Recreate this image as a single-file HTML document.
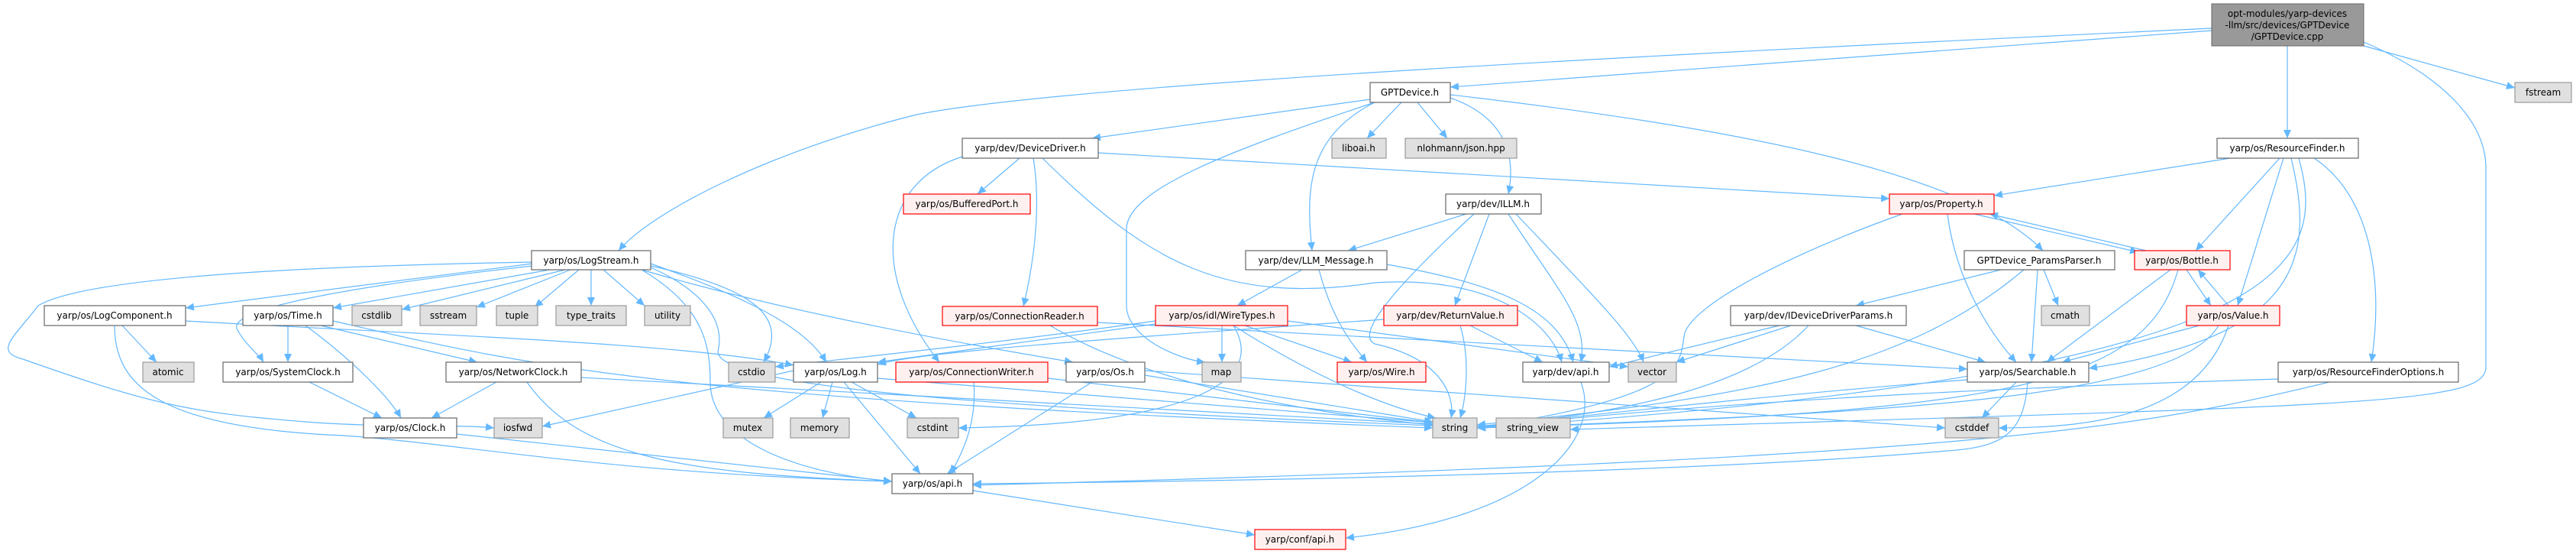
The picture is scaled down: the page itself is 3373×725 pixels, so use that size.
<!DOCTYPE html>
<html><head><meta charset="utf-8"><style>
html,body{margin:0;padding:0;background:#fff;}
svg{display:block;}
text{font-family:"DejaVu Sans","Liberation Sans",sans-serif;font-size:12px;fill:#000;}
.e{fill:none;stroke:#63b8ff;stroke-width:1.2;marker-end:url(#a);}
.w{fill:#fff;stroke:#666;stroke-width:1.2;}
.g{fill:#e0e0e0;stroke:#999;stroke-width:1.2;}
.r{fill:#fff0f0;stroke:#f00;stroke-width:1.2;}
</style></head><body>
<svg width="3373" height="725" viewBox="0 0 3373 725" xmlns="http://www.w3.org/2000/svg">
<defs><marker id="a" markerUnits="userSpaceOnUse" markerWidth="12" markerHeight="10" refX="11" refY="5" orient="auto"><path d="M0,0 L11,5 L0,10 z" fill="#63b8ff"/></marker></defs>
<g>
<path class="e" d="M2896,40 L1899,114"/>
<path class="e" d="M2896,37 C2200,70 1400,110 1200,150 C1000,200 850,280 810,328"/>
<path class="e" d="M2995,60 L2995,181"/>
<path class="e" d="M3095,60 L3293,115"/>
<path class="e" d="M3095,55 C3200,100 3255,160 3255,220 L3255,480 C3255,530 3100,530 2056,562"/>
<path class="e" d="M1794,130 L1430,181"/>
<path class="e" d="M1835,134 L1790,181"/>
<path class="e" d="M1856,134 L1895,181"/>
<path class="e" d="M1899,128 C1990,160 1980,230 1975,254"/>
<path class="e" d="M1800,134 C1710,180 1710,250 1718,328"/>
<path class="e" d="M1800,134 C1600,200 1475,250 1475,300 L1475,400 C1475,440 1540,470 1578,474"/>
<path class="e" d="M1899,124 C2300,170 2580,230 2675,328"/>
<path class="e" d="M1335,207 L1280,254"/>
<path class="e" d="M1353,207 C1365,280 1350,360 1340,401"/>
<path class="e" d="M1260,205 C1150,240 1140,360 1230,474"/>
<path class="e" d="M1438,200 L2474,260"/>
<path class="e" d="M1365,207 C1500,340 1600,400 1800,370 C1950,360 2030,420 2045,474"/>
<path class="e" d="M1920,280 L1765,328"/>
<path class="e" d="M1950,280 L1905,400"/>
<path class="e" d="M1975,280 C2040,380 2080,420 2070,474"/>
<path class="e" d="M1985,280 C2080,380 2140,440 2152,474"/>
<path class="e" d="M1930,280 C1800,400 1780,440 1800,450 C1890,470 1905,520 1900,547"/>
<path class="e" d="M1705,353 L1620,400"/>
<path class="e" d="M1727,353 C1745,420 1770,450 1790,474"/>
<path class="e" d="M1816,346 C1950,370 2040,400 2060,474"/>
<path class="e" d="M1437,422 L2576,483"/>
<path class="e" d="M1375,426 C1500,500 1700,540 1876,556"/>
<path class="e" d="M1600,426 L1600,474"/>
<path class="e" d="M1630,426 L1770,474"/>
<path class="e" d="M1615,426 C1700,480 1800,530 1880,547"/>
<path class="e" d="M1615,426 C1660,500 1560,555 1255,560"/>
<path class="e" d="M1513,420 C1300,450 1100,470 1015,480"/>
<path class="e" d="M1513,424 L1149,474"/>
<path class="e" d="M1686,420 L2132,480"/>
<path class="e" d="M1925,426 L2020,474"/>
<path class="e" d="M1912,426 C1925,470 1920,520 1912,547"/>
<path class="e" d="M1812,418 C1500,440 1200,460 1149,477"/>
<path class="e" d="M2550,280 C2560,360 2600,430 2640,474"/>
<path class="e" d="M2491,280 C2350,330 2210,400 2205,440 C2200,480 2200,520 1934,560"/>
<path class="e" d="M2585,280 L2800,330"/>
<path class="e" d="M2810,328 L2605,280"/>
<path class="e" d="M2920,207 L2611,256"/>
<path class="e" d="M2985,207 L2875,328"/>
<path class="e" d="M2990,207 L2930,400"/>
<path class="e" d="M3000,207 C3030,330 3020,440 2735,482"/>
<path class="e" d="M3010,207 C3050,350 3000,490 1934,560"/>
<path class="e" d="M3030,207 C3110,260 3120,380 3105,474"/>
<path class="e" d="M2620,353 L2430,400"/>
<path class="e" d="M2676,353 L2695,400"/>
<path class="e" d="M2668,353 L2660,474"/>
<path class="e" d="M2650,353 C2500,480 2300,520 1934,556"/>
<path class="e" d="M2842,353 L2680,474"/>
<path class="e" d="M2852,353 C2810,500 2650,540 1934,560"/>
<path class="e" d="M2863,353 L2895,400"/>
<path class="e" d="M2918,400 L2878,353"/>
<path class="e" d="M2880,426 L2700,474"/>
<path class="e" d="M2905,426 C2850,520 2500,540 1934,560"/>
<path class="e" d="M2918,426 C2880,540 2750,560 2617,560"/>
<path class="e" d="M2330,426 L2107,480"/>
<path class="e" d="M2345,426 L2195,474"/>
<path class="e" d="M2430,426 L2600,474"/>
<path class="e" d="M2368,426 C2300,500 2150,540 1934,558"/>
<path class="e" d="M2576,497 C2400,510 2100,540 1934,560"/>
<path class="e" d="M2640,500 L2595,547"/>
<path class="e" d="M2655,500 C2650,570 2620,585 2550,590 C2200,620 1600,630 1274,633"/>
<path class="e" d="M2983,496 C2700,505 2300,520 1934,560"/>
<path class="e" d="M3050,500 C2800,560 2600,600 1274,635"/>
<path class="e" d="M2070,500 C2100,580 2000,680 1762,704"/>
<path class="e" d="M1274,642 L1643,700"/>
<path class="e" d="M697,345 L243,403"/>
<path class="e" d="M720,353 L436,403"/>
<path class="e" d="M740,353 L526,405"/>
<path class="e" d="M747,353 L624,402"/>
<path class="e" d="M758,353 L700,402"/>
<path class="e" d="M774,353 L774,400"/>
<path class="e" d="M790,353 L844,400"/>
<path class="e" d="M697,348 C500,370 300,400 310,430 C320,450 340,465 345,474"/>
<path class="e" d="M697,343 C300,350 100,370 50,400 C20,440 -10,460 30,470 C200,530 250,540 400,552 C500,560 600,555 647,560"/>
<path class="e" d="M852,348 C1000,380 1030,420 1000,474"/>
<path class="e" d="M852,345 C950,380 1050,420 1082,474"/>
<path class="e" d="M840,353 C1000,400 1200,440 1405,474"/>
<path class="e" d="M852,350 C920,380 950,420 940,460 C940,500 1200,530 1876,557"/>
<path class="e" d="M840,353 C920,400 930,450 930,500 C930,580 1050,620 1168,630"/>
<path class="e" d="M160,426 L205,474"/>
<path class="e" d="M243,420 C600,440 900,450 1039,478"/>
<path class="e" d="M150,426 C150,500 200,560 450,570 C600,580 800,620 1168,630"/>
<path class="e" d="M377,426 L377,474"/>
<path class="e" d="M420,426 L625,474"/>
<path class="e" d="M400,426 C460,470 510,520 525,547"/>
<path class="e" d="M436,420 C700,480 850,520 1876,560"/>
<path class="e" d="M405,500 L500,547"/>
<path class="e" d="M650,500 L565,547"/>
<path class="e" d="M761,494 L1876,555"/>
<path class="e" d="M690,500 C760,600 900,620 1168,630"/>
<path class="e" d="M598,568 L1168,630"/>
<path class="e" d="M1039,485 L710,558"/>
<path class="e" d="M1075,500 L1000,547"/>
<path class="e" d="M1090,500 L1077,547"/>
<path class="e" d="M1115,500 L1200,547"/>
<path class="e" d="M1105,500 L1205,620"/>
<path class="e" d="M1149,495 L1876,553"/>
<path class="e" d="M1275,500 C1280,560 1255,600 1245,620"/>
<path class="e" d="M1372,495 L1876,553"/>
<path class="e" d="M1430,500 L1240,620"/>
<path class="e" d="M1499,491 L1876,552"/>
<path class="e" d="M1499,485 L2547,560"/>
</g>
<g text-anchor="middle">
<rect x="2896" y="5" width="199" height="55" fill="#999" stroke="#666"/>
<text x="2995" y="22">opt-modules/yarp-devices</text><text x="2995" y="37">-llm/src/devices/GPTDevice</text><text x="2995" y="52">/GPTDevice.cpp</text>

<rect class="w" x="1794" y="108" width="105" height="26"/><text x="1846" y="125">GPTDevice.h</text>
<rect class="g" x="3293" y="108" width="74" height="26"/><text x="3330" y="125">fstream</text>

<rect class="w" x="1260" y="181" width="178" height="26"/><text x="1349" y="198">yarp/dev/DeviceDriver.h</text>
<rect class="g" x="1744" y="181" width="71" height="26"/><text x="1779" y="198">liboai.h</text>
<rect class="g" x="1840" y="181" width="146" height="26"/><text x="1913" y="198">nlohmann/json.hpp</text>
<rect class="w" x="2903" y="181" width="185" height="26"/><text x="2995" y="198">yarp/os/ResourceFinder.h</text>

<rect class="r" x="1183" y="254" width="166" height="26"/><text x="1266" y="271">yarp/os/BufferedPort.h</text>
<rect class="w" x="1893" y="254" width="125" height="26"/><text x="1955" y="271">yarp/dev/ILLM.h</text>
<rect class="r" x="2474" y="254" width="137" height="26"/><text x="2542" y="271">yarp/os/Property.h</text>

<rect class="w" x="696" y="328" width="156" height="25"/><text x="774" y="345">yarp/os/LogStream.h</text>
<rect class="w" x="1631" y="328" width="185" height="25"/><text x="1723" y="345">yarp/dev/LLM_Message.h</text>
<rect class="w" x="2572" y="328" width="197" height="25"/><text x="2670" y="345">GPTDevice_ParamsParser.h</text>
<rect class="r" x="2795" y="328" width="125" height="25"/><text x="2857" y="345">yarp/os/Bottle.h</text>

<rect class="w" x="58" y="400" width="185" height="26"/><text x="150" y="417">yarp/os/LogComponent.h</text>
<rect class="w" x="318" y="400" width="118" height="26"/><text x="377" y="417">yarp/os/Time.h</text>
<rect class="g" x="461" y="400" width="65" height="26"/><text x="493" y="417">cstdlib</text>
<rect class="g" x="550" y="400" width="74" height="26"/><text x="587" y="417">sstream</text>
<rect class="g" x="650" y="400" width="54" height="26"/><text x="677" y="417">tuple</text>
<rect class="g" x="728" y="400" width="92" height="26"/><text x="774" y="417">type_traits</text>
<rect class="g" x="844" y="400" width="60" height="26"/><text x="874" y="417">utility</text>
<rect class="r" x="1234" y="401" width="203" height="25"/><text x="1335" y="418">yarp/os/ConnectionReader.h</text>
<rect class="r" x="1513" y="400" width="173" height="26"/><text x="1600" y="417">yarp/os/idl/WireTypes.h</text>
<rect class="r" x="1812" y="400" width="175" height="26"/><text x="1899" y="417">yarp/dev/ReturnValue.h</text>
<rect class="w" x="2266" y="400" width="230" height="26"/><text x="2381" y="417">yarp/dev/IDeviceDriverParams.h</text>
<rect class="g" x="2673" y="400" width="63" height="26"/><text x="2704" y="417">cmath</text>
<rect class="r" x="2863" y="400" width="122" height="26"/><text x="2924" y="417">yarp/os/Value.h</text>

<rect class="g" x="187" y="474" width="67" height="26"/><text x="220" y="491">atomic</text>
<rect class="w" x="292" y="474" width="170" height="26"/><text x="377" y="491">yarp/os/SystemClock.h</text>
<rect class="w" x="584" y="474" width="177" height="26"/><text x="672" y="491">yarp/os/NetworkClock.h</text>
<rect class="g" x="954" y="474" width="61" height="26"/><text x="984" y="491">cstdio</text>
<rect class="w" x="1039" y="474" width="110" height="26"/><text x="1094" y="491">yarp/os/Log.h</text>
<rect class="r" x="1173" y="474" width="199" height="26"/><text x="1272" y="491">yarp/os/ConnectionWriter.h</text>
<rect class="w" x="1396" y="474" width="103" height="26"/><text x="1447" y="491">yarp/os/Os.h</text>
<rect class="g" x="1574" y="474" width="51" height="26"/><text x="1599" y="491">map</text>
<rect class="r" x="1751" y="474" width="116" height="26"/><text x="1809" y="491">yarp/os/Wire.h</text>
<rect class="w" x="1994" y="474" width="113" height="26"/><text x="2050" y="491">yarp/dev/api.h</text>
<rect class="g" x="2132" y="474" width="63" height="26"/><text x="2163" y="491">vector</text>
<rect class="w" x="2576" y="474" width="159" height="26"/><text x="2655" y="491">yarp/os/Searchable.h</text>
<rect class="w" x="2983" y="474" width="236" height="26"/><text x="3101" y="491">yarp/os/ResourceFinderOptions.h</text>

<rect class="w" x="476" y="547" width="122" height="26"/><text x="537" y="564">yarp/os/Clock.h</text>
<rect class="g" x="647" y="547" width="63" height="26"/><text x="678" y="564">iosfwd</text>
<rect class="g" x="947" y="547" width="65" height="26"/><text x="979" y="564">mutex</text>
<rect class="g" x="1035" y="547" width="77" height="26"/><text x="1073" y="564">memory</text>
<rect class="g" x="1188" y="547" width="67" height="26"/><text x="1221" y="564">cstdint</text>
<rect class="g" x="1876" y="547" width="58" height="26"/><text x="1905" y="564">string</text>
<rect class="g" x="1959" y="547" width="97" height="26"/><text x="2007" y="564">string_view</text>
<rect class="g" x="2547" y="547" width="70" height="26"/><text x="2582" y="564">cstddef</text>

<rect class="w" x="1168" y="620" width="106" height="26"/><text x="1221" y="637">yarp/os/api.h</text>
<rect class="r" x="1643" y="693" width="119" height="26"/><text x="1702" y="710">yarp/conf/api.h</text>
</g>
</svg>
</body></html>
